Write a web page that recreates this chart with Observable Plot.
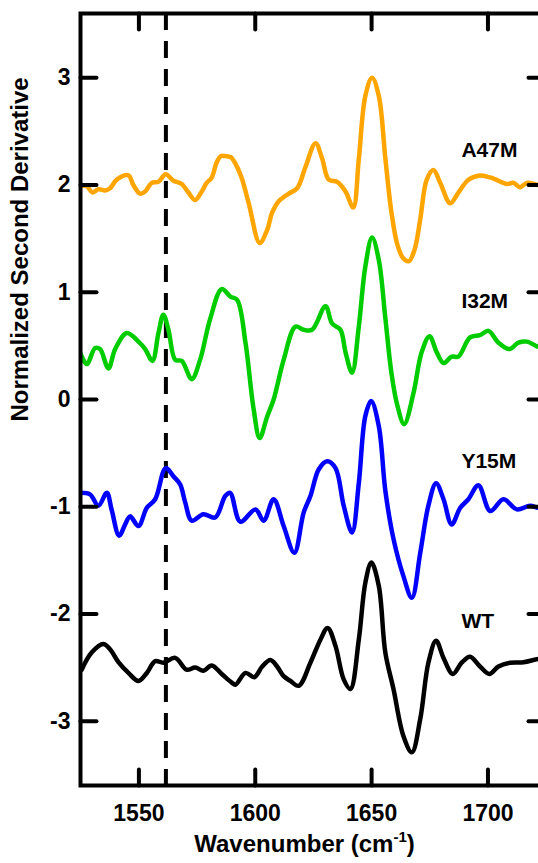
<!DOCTYPE html>
<html><head><meta charset="utf-8">
<script src="https://cdn.jsdelivr.net/npm/d3@7"></script>
<script src="https://cdn.jsdelivr.net/npm/@observablehq/plot@0.6"></script>
<style>
html,body{margin:0;padding:0;background:#fff;overflow:hidden;}
#chart{position:relative;width:538px;height:863px;}
#chart svg{overflow:hidden;display:block;}
#chart .overlay{position:absolute;left:0;top:0;pointer-events:none;}
</style></head>
<body><div id="chart"></div>
<script>
const seriesNames = ["A47M","I32M","Y15M","WT"];
const seriesColors = ["#FFA500","#00CC00","#0000FF","#000000"];

const A47M_wn = [1524.7,1527.6,1530.0,1532.6,1535.5,1537.6,1540.5,1545.5,1547.6,1550.5,1552.7,1555.5,1558.4,1561.5,1564.8,1568.4,1571.3,1574.2,1577.0,1579.1,1581.3,1583.4,1585.3,1587.0,1589.5,1593.6,1597.2,1601.9,1605.1,1607.2,1610.1,1614.4,1618.0,1621.6,1625.9,1628.7,1631.6,1635.2,1638.8,1642.1,1644.5,1647.3,1650.2,1653.1,1655.9,1658.5,1661.0,1663.5,1666.0,1668.5,1670.9,1673.7,1676.6,1679.5,1683.8,1687.3,1691.6,1696.6,1702.4,1708.1,1711.0,1713.8,1716.7,1721.7,1724.3];
const A47M_val = [1.99,1.99,1.93,1.96,1.95,1.97,2.05,2.09,2.00,1.92,1.94,2.02,2.03,2.10,2.04,2.01,1.93,1.86,1.94,2.02,2.07,2.21,2.27,2.27,2.26,2.10,1.83,1.46,1.58,1.74,1.85,1.92,1.97,2.17,2.39,2.25,2.05,2.03,1.94,1.79,2.24,2.83,3.00,2.83,2.25,1.75,1.45,1.32,1.29,1.40,1.68,2.05,2.14,2.02,1.83,1.93,2.05,2.09,2.06,2.01,2.02,1.98,2.02,2.00,2.00];

const I32M_wn = [1524.7,1527.6,1531.2,1533.3,1536.9,1539.8,1544.8,1549.8,1552.7,1555.8,1558.4,1560.5,1562.7,1565.6,1568.4,1572.7,1576.3,1580.6,1585.6,1589.3,1592.2,1595.8,1599.3,1601.9,1605.1,1607.9,1612.2,1617.3,1620.8,1624.4,1630.2,1633.0,1636.6,1638.8,1641.6,1644.5,1647.3,1650.2,1653.1,1655.9,1658.5,1661.0,1664.0,1668.0,1671.5,1674.9,1678.0,1680.9,1684.4,1687.3,1692.3,1696.6,1700.2,1704.5,1709.2,1713.1,1716.7,1721.7,1724.3];
const I32M_val = [0.44,0.33,0.48,0.47,0.29,0.47,0.62,0.54,0.47,0.36,0.62,0.79,0.65,0.37,0.36,0.19,0.37,0.75,1.03,0.96,0.93,0.53,-0.09,-0.36,-0.16,0.00,0.37,0.68,0.65,0.65,0.87,0.71,0.65,0.44,0.25,0.68,1.24,1.51,1.30,0.76,0.25,-0.05,-0.23,0.06,0.44,0.59,0.44,0.34,0.40,0.40,0.58,0.60,0.64,0.53,0.47,0.53,0.54,0.49,0.48];

const Y15M_wn = [1524.7,1529.0,1532.6,1536.2,1538.3,1541.5,1544.1,1546.2,1549.8,1553.4,1557.0,1561.5,1564.8,1567.7,1569.9,1572.7,1577.7,1582.8,1587.1,1589.2,1593.6,1600.1,1603.6,1607.9,1612.2,1616.8,1620.8,1623.7,1627.3,1630.9,1634.5,1638.0,1641.6,1644.5,1647.3,1649.8,1653.1,1655.9,1659.4,1663.7,1667.3,1670.9,1674.4,1677.7,1680.9,1684.4,1688.1,1691.6,1695.9,1701.0,1706.7,1712.4,1718.1,1721.7,1724.3];
const Y15M_val = [-0.87,-0.885,-0.99,-0.87,-1.03,-1.27,-1.165,-1.09,-1.18,-1.01,-0.93,-0.64,-0.715,-0.79,-0.96,-1.13,-1.07,-1.10,-0.90,-0.87,-1.14,-1.025,-1.13,-0.93,-1.18,-1.43,-1.055,-0.90,-0.65,-0.575,-0.64,-0.99,-1.24,-0.78,-0.155,-0.015,-0.25,-0.85,-1.30,-1.65,-1.85,-1.43,-0.99,-0.78,-0.93,-1.165,-1.01,-0.93,-0.80,-1.04,-0.93,-1.025,-0.99,-1.01,-1.0];

const WT_wn = [1525.4,1529.7,1534.7,1537.6,1541.2,1545.5,1549.8,1553.4,1557.0,1560.5,1565.6,1570.5,1574.2,1577.7,1581.3,1585.6,1589.9,1591.5,1595.8,1599.6,1603.0,1606.5,1609.4,1612.2,1615.1,1618.7,1623.7,1628.0,1631.1,1634.5,1638.0,1640.9,1644.5,1647.3,1649.9,1653.1,1655.9,1659.4,1663.7,1667.3,1670.9,1674.4,1677.7,1680.9,1684.9,1688.7,1692.3,1696.6,1700.6,1704.5,1709.5,1715.3,1721.7,1724.3];
const WT_val = [-2.52,-2.36,-2.28,-2.33,-2.45,-2.55,-2.625,-2.55,-2.44,-2.455,-2.41,-2.52,-2.50,-2.53,-2.48,-2.56,-2.64,-2.66,-2.55,-2.59,-2.49,-2.43,-2.49,-2.58,-2.625,-2.67,-2.455,-2.24,-2.13,-2.30,-2.61,-2.70,-2.24,-1.71,-1.52,-1.74,-2.36,-2.70,-3.14,-3.29,-2.98,-2.455,-2.25,-2.41,-2.56,-2.455,-2.40,-2.49,-2.56,-2.49,-2.455,-2.45,-2.42,-2.42];

const xTicks = [1550,1600,1650,1700];
const yTicks = [-3,-2,-1,0,1,2,3];
const markerWn = [1561.6];
const labelText = ["A47M","I32M","Y15M","WT"];
const labelWn = [1688.6,1688.6,1688.6,1688.6];
const labelVal = [2.26,0.85,-0.64,-2.13];
const xTitle = "Wavenumber (cm-1)";
const yTitle = "Normalized Second Derivative";

const wnArrays = [A47M_wn, I32M_wn, Y15M_wn, WT_wn];
const valArrays = [A47M_val, I32M_val, Y15M_val, WT_val];
const rows = [];
seriesNames.forEach((s, i) => {
  wnArrays[i].forEach((w, j) => rows.push({series: s, wn: w, val: valArrays[i][j]}));
});
const labels = labelText.map((t, i) => ({t, wn: labelWn[i], val: labelVal[i]}));

const FONT = "'Liberation Sans', Arial, Helvetica, sans-serif";
const TL = 16;
const tickShape = {draw(context, l) { context.moveTo(0, 0); context.lineTo(0, -l); }};
const tickStyle = {stroke: "black", strokeWidth: 4, length: TL, anchor: "start", shape: tickShape};
const frameOpts = {
  width: 538, height: 863,
  marginLeft: 80, marginRight: -6, marginTop: 13, marginBottom: 78,
  x: {domain: [1524.9, 1724.3], axis: null},
  y: {domain: [-3.6, 3.6], axis: null}
};

// main layer: data, marker, labels, titles
const chart = Plot.plot({
  ...frameOpts,
  color: {domain: seriesNames, range: seriesColors},
  style: {fontFamily: FONT, fontWeight: "bold", background: "white", color: "black"},
  marks: [
    Plot.ruleX(markerWn, {stroke: "black", strokeWidth: 4, strokeDasharray: "17,11"}),
    Plot.line(rows, {x: "wn", y: "val", z: "series", stroke: "series", strokeWidth: 4.5, curve: "catmull-rom", clip: true}),
    Plot.text(labels, {x: "wn", y: "val", text: "t", textAnchor: "start", lineAnchor: "bottom", fontSize: 21, fontWeight: "bold", fill: "black"}),
    Plot.text(xTicks, {x: d => d, frameAnchor: "bottom", dy: 19, lineAnchor: "top", text: d => String(d), fontSize: 23, fontWeight: "bold", fill: "black"}),
    Plot.text(yTicks, {y: d => d, frameAnchor: "left", dx: -10, textAnchor: "end", text: d => String(d), fontSize: 23, fontWeight: "bold", fill: "black"}),
    Plot.text([yTitle], {frameAnchor: "left", dx: -60, dy: 22, rotate: -90, fontSize: 24, fontWeight: "bold", fill: "black"}),
    Plot.text([xTitle], {frameAnchor: "bottom", dx: -8, dy: 66, fontSize: 24, fontWeight: "bold", fill: "black"})
  ]
});
const host = document.getElementById("chart");
host.appendChild(chart);

// frame + bottom/left inward ticks
const layerA = Plot.plot({
  ...frameOpts,
  style: {background: "transparent", color: "black"},
  marks: [
    Plot.vector([...xTicks], {x: d => d, frameAnchor: "bottom", rotate: 0, ...tickStyle}),
    Plot.vector([...yTicks], {y: d => d, frameAnchor: "left", rotate: 90, ...tickStyle}),
    Plot.frame({stroke: "black", strokeWidth: 4})
  ]
});
layerA.classList.add("overlay");
host.appendChild(layerA);

// top/right inward ticks
const layerB = Plot.plot({
  ...frameOpts,
  style: {background: "transparent", color: "black"},
  marks: [
    Plot.vector([...xTicks], {x: d => d, frameAnchor: "top", rotate: 180, ...tickStyle}),
    Plot.vector([...yTicks], {y: d => d, frameAnchor: "right", rotate: -90, ...tickStyle})
  ]
});
layerB.classList.add("overlay");
host.appendChild(layerB);

chart.querySelectorAll("text").forEach(el => {
  if (el.textContent === xTitle) {
    el.textContent = "";
    const ns = "http://www.w3.org/2000/svg";
    el.appendChild(document.createTextNode("Wavenumber (cm"));
    const sup = document.createElementNS(ns, "tspan");
    sup.setAttribute("dy", "-10");
    sup.setAttribute("font-size", "15");
    sup.textContent = "-1";
    el.appendChild(sup);
    const close = document.createElementNS(ns, "tspan");
    close.setAttribute("dy", "10");
    close.textContent = ")";
    el.appendChild(close);
  }
});
</script>
</body></html>
